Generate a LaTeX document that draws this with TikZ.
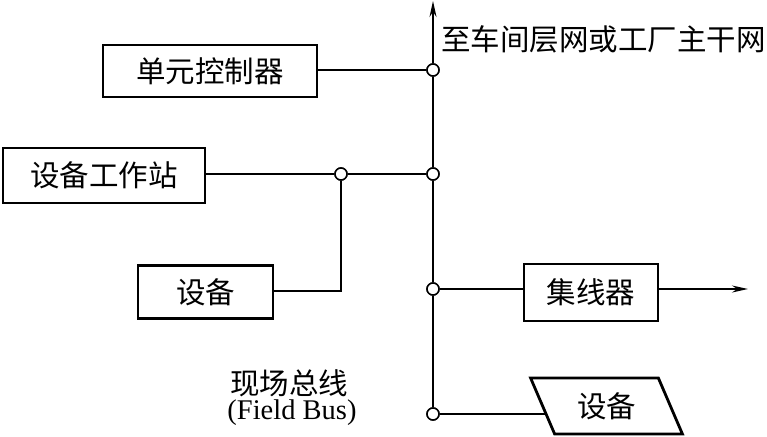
\documentclass[tikz,border=0pt]{standalone}
\usepackage{fontspec}
\setmainfont{Liberation Serif}
\newfontfamily\cjk{Noto Sans CJK SC}
\usetikzlibrary{arrows.meta,shapes.geometric}
\begin{document}
\begin{tikzpicture}[x=1pt,y=-1pt,
  box/.style={draw,line width=2.8pt,inner sep=0pt,font=\cjk\fontsize{29.5}{29.5}\selectfont},
  jn/.style={circle,draw,fill=white,line width=1.5pt,inner sep=0pt,minimum size=12pt},
  wire/.style={line width=1.7pt},
  lbl/.style={inner sep=0pt,font=\cjk\fontsize{29.5}{29.5}\selectfont},
  tip/.style={-{Stealth[length=16pt,width=7pt]}}]
\useasboundingbox (0,0) rectangle (767,436);
% boxes
\node[box,minimum width=214pt,minimum height=52pt] (ctrl) at (210,71) {单元控制器};
\node[box,minimum width=202pt,minimum height=55pt] (ws) at (104,175.5) {设备工作站};
\node[box,minimum width=135pt,minimum height=53pt] (dev1) at (205.5,292) {设备};
\node[box,minimum width=134pt,minimum height=57pt] (hub) at (591,292.5) {集线器};
\node[box,trapezium,trapezium left angle=116.6,trapezium right angle=63.4,
      trapezium stretches=true,minimum width=153pt,minimum height=56pt] (dev2) at (606.5,406) {设备};
% junctions
\coordinate (top) at (433,1);
\node[jn] (b1) at (433,70) {};
\node[jn] (b2) at (433,174) {};
\node[jn] (b3) at (433,289) {};
\node[jn] (b4) at (433,414) {};
\node[jn] (j1) at (341,174) {};
\coordinate (out) at (748,289);
% bus
\draw[wire] (b4) -- (b3) -- (b2) -- (b1);
\draw[wire,tip] (b1) -- (top);
% connectors
\draw[wire] (ctrl.east |- b1) -- (b1);
\draw[wire] (ws.east |- j1) -- (j1) -- (b2);
\draw[wire] (dev1.east |- 0,291) -| (j1);
\draw[wire] (b3) -- (b3 -| hub.west);
\draw[wire,tip] (hub.east |- out) -- (out);
\draw[wire,shorten >=-4pt] (b4) -- (b4 -| dev2.west);
% labels
\node[lbl,anchor=west] (toplbl) at (441,39) {至车间层网或工厂主干网};
\node[lbl] (fb1) at (289,383) {现场总线};
\node[inner sep=0pt,font=\fontsize{28.5}{28.5}\selectfont] (fb2) at (292,413) {(Field Bus)};
% redraw junctions on top
\foreach \n in {b1,b2,b3,b4,j1} \node[jn] at (\n) {};
\end{tikzpicture}
\end{document}
